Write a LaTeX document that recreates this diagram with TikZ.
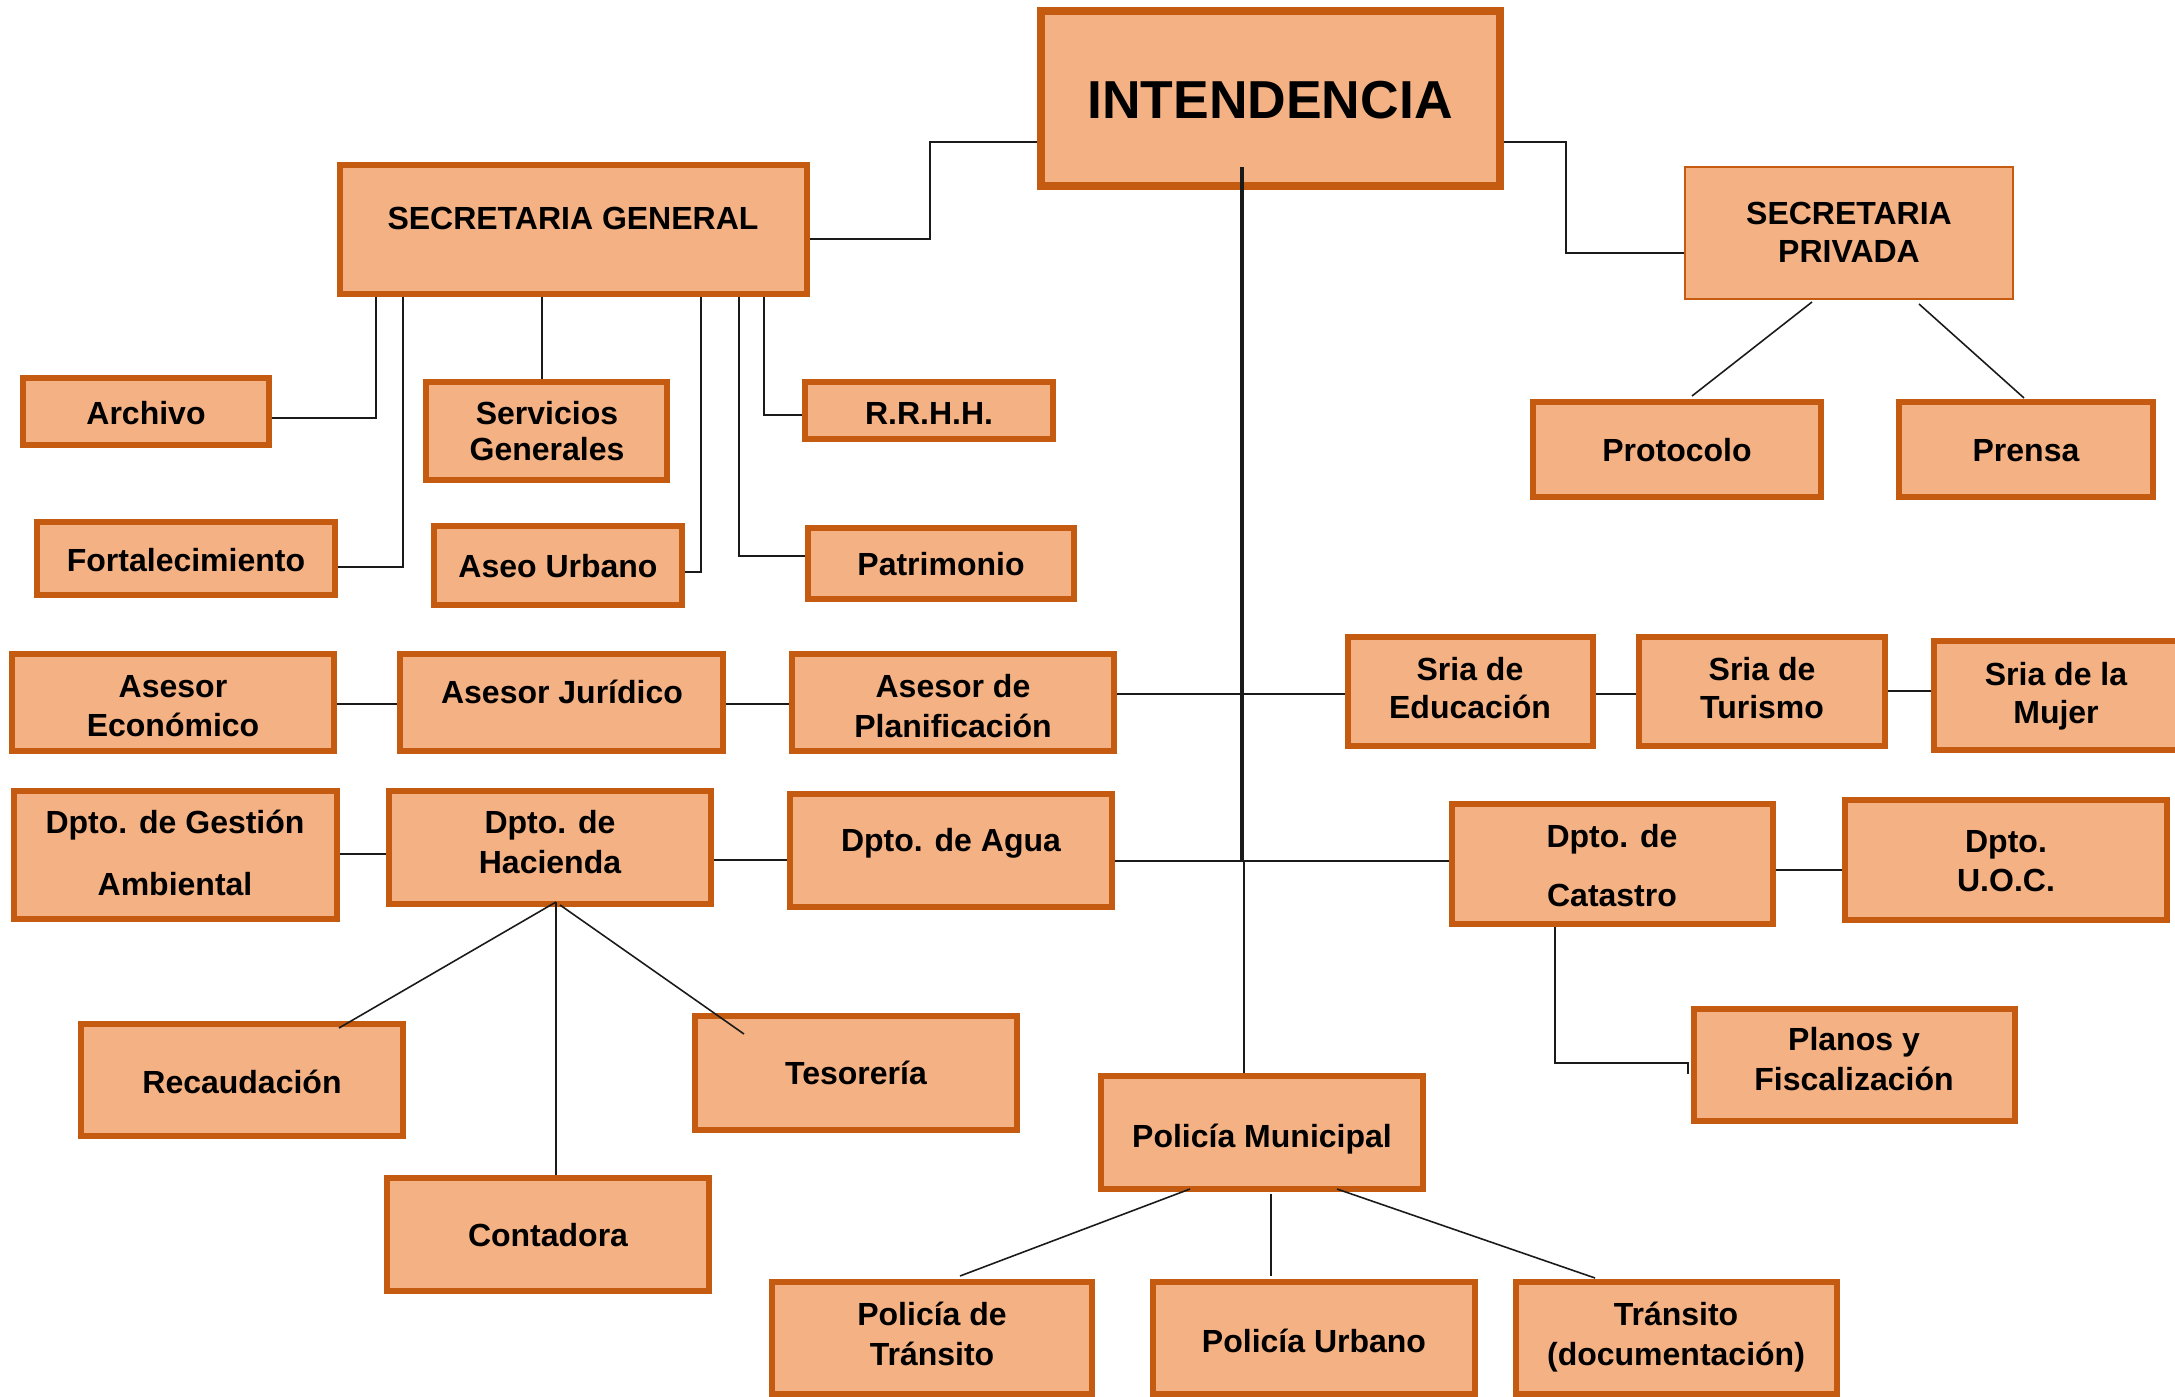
\documentclass[tikz,border=0pt]{standalone}
\usepackage{fontspec}
\setmainfont{Liberation Sans}
\usetikzlibrary{calc}
\definecolor{boxfill}{HTML}{F4B183}
\definecolor{boxline}{HTML}{C55A11}
\definecolor{connc}{HTML}{1A1A1A}
\tikzset{
  orgbox/.style={draw=boxline, fill=boxfill, line width=0.06cm, inner sep=0pt, rectangle},
  lbl/.style={anchor=base, inner sep=0pt, font=\bfseries\fontsize{9.1}{10}\selectfont},
  conn/.style={draw=connc, line width=0.45pt},
  trunk/.style={draw=connc, line width=0.9pt},
}
\newcommand\orgbox[6][]{\node[orgbox,#1, minimum width={(#5-#3-6)*0.01cm}, minimum height={(#6-#4-6)*0.01cm}] (#2) at ({(#3+#5)/2},{(#4+#6)/2}) {};}
\newcommand\orgtxt[4]{\node[lbl] (#1) at (#2,#3) {#4};}
\begin{document}
\begin{tikzpicture}[x=0.01cm,y=-0.01cm]
\useasboundingbox (0,0) rectangle (2175,1397);
% boxes
\orgbox[line width=0.08cm]{int}{1038}{8}{1503}{189}
\orgbox{sg}{337}{162}{810}{297}
\orgbox[line width=0.02cm]{sp}{1682}{164}{2016}{302}
\orgbox{arch}{20}{375}{272}{448}
\orgbox{serv}{423}{379}{670}{483}
\orgbox{rrhh}{802}{379}{1056}{442}
\orgbox{fort}{34}{519}{338}{598}
\orgbox{aseo}{431}{523}{685}{608}
\orgbox{patr}{805}{525}{1077}{602}
\orgbox{prot}{1530}{399}{1824}{500}
\orgbox{pren}{1896}{399}{2156}{500}
\orgbox{aeco}{9}{651}{337}{754}
\orgbox{ajur}{397}{651}{726}{754}
\orgbox{apla}{789}{651}{1117}{754}
\orgbox{gest}{11}{788}{340}{922}
\orgbox{haci}{386}{788}{714}{907}
\orgbox{agua}{787}{791}{1115}{910}
\orgbox{edu}{1345}{634}{1596}{749}
\orgbox{tur}{1636}{634}{1888}{749}
\orgbox{muj}{1931}{638}{2200}{753}
\orgbox{cat}{1449}{801}{1776}{927}
\orgbox{uoc}{1842}{797}{2170}{923}
\orgbox{plan}{1691}{1006}{2018}{1124}
\orgbox{reca}{78}{1021}{406}{1139}
\orgbox{teso}{692}{1013}{1020}{1133}
\orgbox{cont}{384}{1175}{712}{1294}
\orgbox{pm}{1098}{1073}{1426}{1192}
\orgbox{pdt}{769}{1279}{1095}{1397}
\orgbox{pu}{1150}{1279}{1478}{1397}
\orgbox{td}{1513}{1279}{1840}{1397}
% texts
\orgtxt{tint}{1270}{119}{\fontsize{15.2}{18}\selectfont INTENDENCIA}
\orgtxt{tsg}{573}{229}{SECRETARIA GENERAL}
\orgtxt{tsp1}{1849}{225}{SECRETARIA}
\orgtxt{tsp2}{1849}{263}{PRIVADA}
\orgtxt{tarch}{146}{424}{Archivo}
\orgtxt{tserv1}{547}{424}{Servicios}
\orgtxt{tserv2}{547}{460}{Generales}
\orgtxt{trrhh}{929}{424}{R.R.H.H.}
\orgtxt{tfort}{186}{571}{Fortalecimiento}
\orgtxt{taseo}{558}{577}{Aseo Urbano}
\orgtxt{tpatr}{941}{575}{Patrimonio}
\orgtxt{tprot}{1677}{462}{Protocolo}
\orgtxt{tpren}{2026}{462}{Prensa}
\orgtxt{taeco1}{173}{697}{Asesor}
\orgtxt{taeco2}{173}{736}{Económico}
\orgtxt{tajur}{562}{703}{Asesor Jurídico}
\orgtxt{tapla1}{953}{697}{Asesor de}
\orgtxt{tapla2}{953}{737}{Planificación}
\orgtxt{tgest1}{175}{833}{Dpto. de Gestión}
\orgtxt{tgest2}{175}{895}{Ambiental}
\orgtxt{thaci1}{550}{833}{Dpto. de}
\orgtxt{thaci2}{550}{873}{Hacienda}
\orgtxt{tagua}{951}{851}{Dpto. de Agua}
\orgtxt{tedu1}{1470}{680}{Sria de}
\orgtxt{tedu2}{1470}{718}{Educación}
\orgtxt{ttur1}{1762}{680}{Sria de}
\orgtxt{ttur2}{1762}{718}{Turismo}
\orgtxt{tmuj1}{2056}{685}{Sria de la}
\orgtxt{tmuj2}{2056}{723}{Mujer}
\orgtxt{tcat1}{1612}{847}{Dpto. de}
\orgtxt{tcat2}{1612}{906}{Catastro}
\orgtxt{tuoc1}{2006}{852}{Dpto.}
\orgtxt{tuoc2}{2006}{891}{U.O.C.}
\orgtxt{tplan1}{1854}{1050}{Planos y}
\orgtxt{tplan2}{1854}{1090}{Fiscalización}
\orgtxt{treca}{242}{1093}{Recaudación}
\orgtxt{tteso}{856}{1084}{Tesorería}
\orgtxt{tcont}{548}{1246}{Contadora}
\orgtxt{tpm}{1262}{1147}{Policía Municipal}
\orgtxt{tpdt1}{932}{1325}{Policía de}
\orgtxt{tpdt2}{932}{1365}{Tránsito}
\orgtxt{tpu}{1314}{1352}{Policía Urbano}
\orgtxt{ttd1}{1676}{1325}{Tránsito}
\orgtxt{ttd2}{1676}{1365}{(documentación)}
% connector coordinates
\coordinate (k1) at (930,142); \coordinate (k2) at (930,239);
\coordinate (k3) at (1566,142); \coordinate (k4) at (1566,253);
\coordinate (a1) at (376,418); \coordinate (a2) at (403,567);
\coordinate (a3) at (542,379); \coordinate (a4) at (701,572);
\coordinate (a5) at (739,556); \coordinate (a6) at (764,415);
\coordinate (p1) at (1812,302); \coordinate (p1e) at (1692,396);
\coordinate (p2) at (1919,304); \coordinate (p2e) at (2024,398);
\coordinate (tr0) at (1242,167); \coordinate (tr1) at (1242,862);
\coordinate (tr2) at (1244,862);
\coordinate (h1) at (1242,694); \coordinate (h2) at (1242,861);
\coordinate (e1) at (0,704); \coordinate (e2) at (0,854); \coordinate (e3) at (0,860);
\coordinate (e4) at (0,694); \coordinate (e5) at (0,691); \coordinate (e6) at (0,870);
\coordinate (q1) at (1555,1063); \coordinate (q2) at (1688,1063); \coordinate (q3) at (1688,1074);
\coordinate (hap) at (556,902); \coordinate (hap2) at (560,905);
\coordinate (hr) at (339,1028); \coordinate (ht) at (744,1034);
\coordinate (m1) at (1190,1189); \coordinate (m1e) at (960,1276);
\coordinate (m2) at (1271,1194); \coordinate (m2e) at (1271,1276);
\coordinate (m3) at (1337,1189); \coordinate (m3e) at (1595,1278);
% connectors
\draw[conn] (k1 -| int.west) -- (k1) -- (k2) -- (k2 -| sg.east);
\draw[conn] (k3 -| int.east) -- (k3) -- (k4) -- (k4 -| sp.west);
\draw[conn] (a1 |- sg.south) -- (a1) -- (a1 -| arch.east);
\draw[conn] (a2 |- sg.south) -- (a2) -- (a2 -| fort.east);
\draw[conn] (a3 |- sg.south) -- (a3 |- serv.north);
\draw[conn] (a4 |- sg.south) -- (a4) -- (a4 -| aseo.east);
\draw[conn] (a5 |- sg.south) -- (a5) -- (a5 -| patr.west);
\draw[conn] (a6 |- sg.south) -- (a6) -- (a6 -| rrhh.west);
\draw[conn] (p1) -- (p1e);
\draw[conn] (p2) -- (p2e);
\draw[trunk] (tr0) -- (tr1);
\draw[conn] (tr2) -- (tr2 |- pm.north);
\draw[conn] (h1 -| apla.east) -- (h1 -| edu.west);
\draw[conn] (h2 -| agua.east) -- (h2 -| cat.west);
\draw[conn] (e1 -| aeco.east) -- (e1 -| ajur.west);
\draw[conn] (e1 -| ajur.east) -- (e1 -| apla.west);
\draw[conn] (e2 -| gest.east) -- (e2 -| haci.west);
\draw[conn] (e3 -| haci.east) -- (e3 -| agua.west);
\draw[conn] (e4 -| edu.east) -- (e4 -| tur.west);
\draw[conn] (e5 -| tur.east) -- (e5 -| muj.west);
\draw[conn] (e6 -| cat.east) -- (e6 -| uoc.west);
\draw[conn] (q1 |- cat.south) -- (q1) -- (q2) -- (q3);
\draw[conn] (hap) -- (hr);
\draw[conn] (hap) -- (hap |- cont.north);
\draw[conn] (hap2) -- (ht);
\draw[conn] (m1) -- (m1e);
\draw[conn] (m2) -- (m2e);
\draw[conn] (m3) -- (m3e);
\end{tikzpicture}
\end{document}
